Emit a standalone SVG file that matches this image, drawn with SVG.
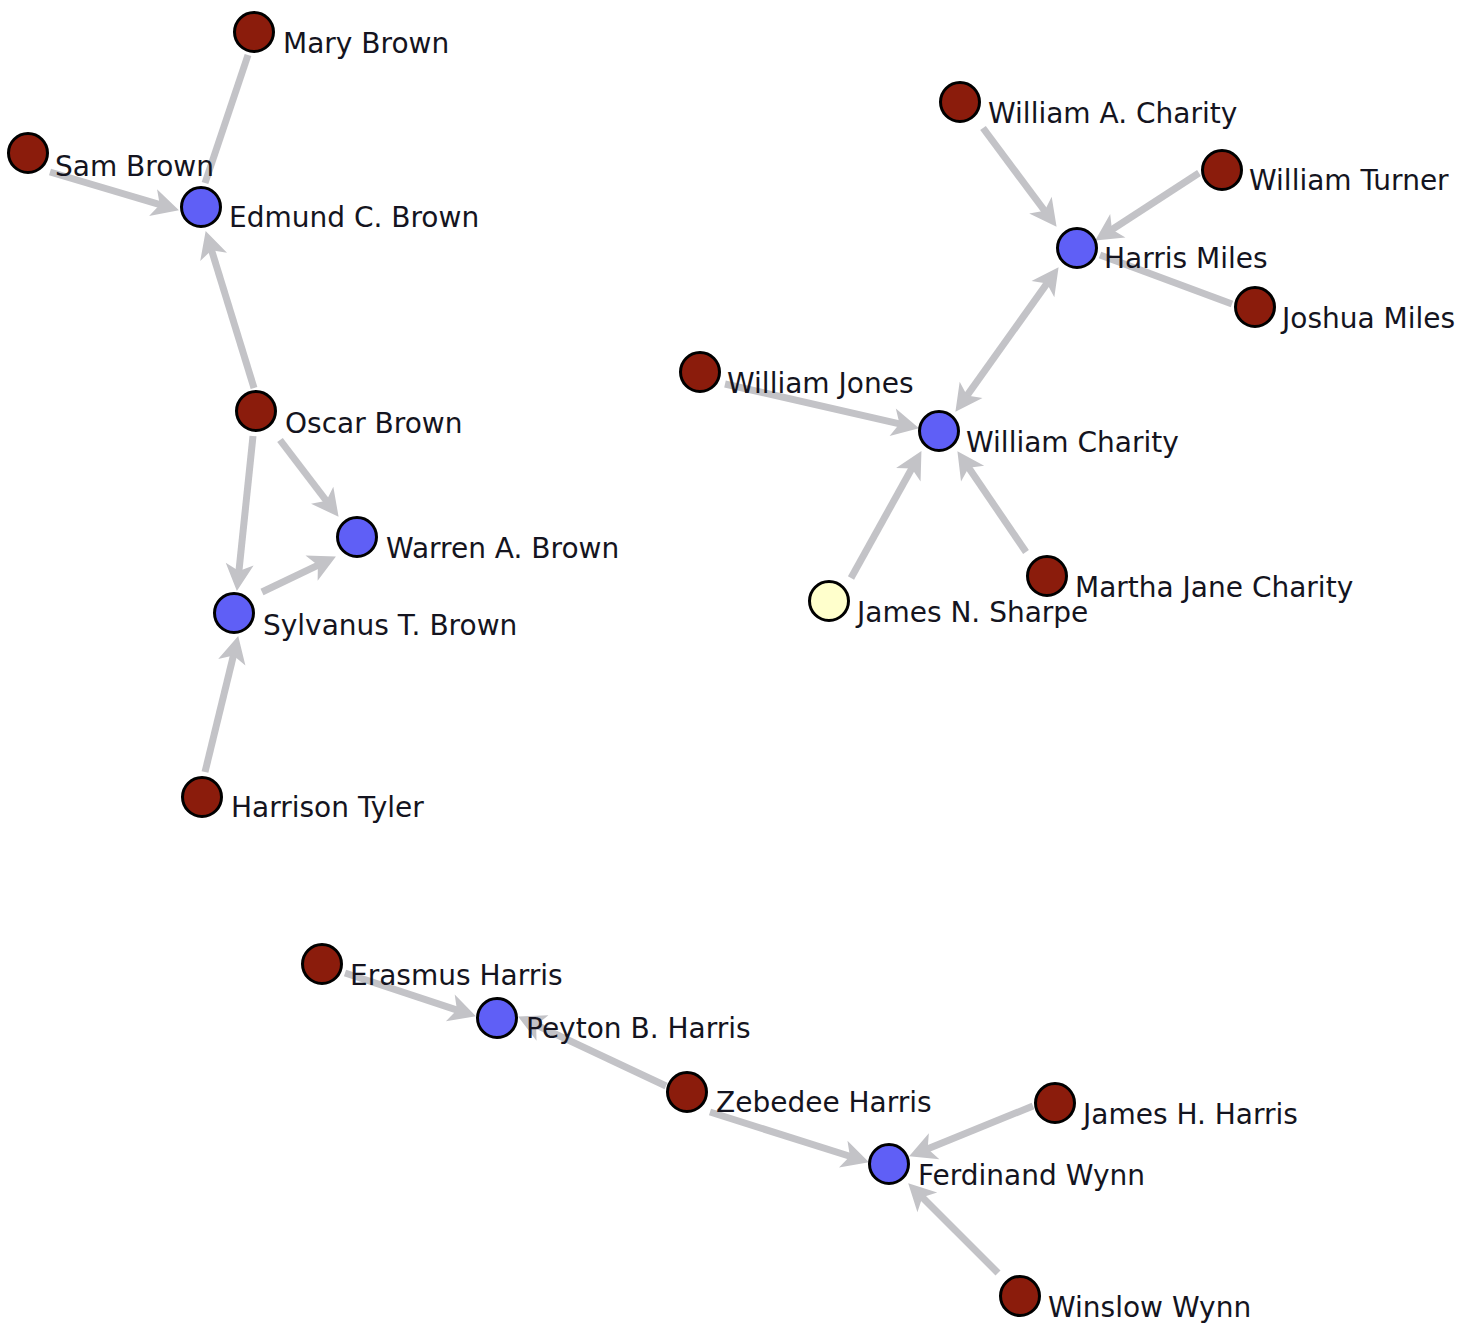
<svg xmlns="http://www.w3.org/2000/svg" width="1472" height="1323" viewBox="0 0 1472 1323">
<style>
.bg{fill:#ffffff}
.edge{stroke:#c3c3c7;stroke-width:7;fill:none}
.arr{marker-end:url(#ah)}
.both{marker-end:url(#ah);marker-start:url(#ahs)}
.n{stroke:#000;stroke-width:3}
.red{fill:#8b1c0c}
.blue{fill:#5f5ff6}
.yel{fill:#ffffcc}
text{font-family:"DejaVu Sans","Liberation Sans",sans-serif;font-size:28px;fill:#141420}
</style>
<defs>
<marker id="ah" markerUnits="userSpaceOnUse" markerWidth="44" markerHeight="44" viewBox="-22 -22 44 44" refX="0" refY="0" orient="auto">
<path d="M11,0 L-16,-14 L-9,0 L-16,14 Z" fill="#c3c3c7"/>
</marker>
<marker id="ahs" markerUnits="userSpaceOnUse" markerWidth="44" markerHeight="44" viewBox="-22 -22 44 44" refX="0" refY="0" orient="auto-start-reverse">
<path d="M11,0 L-16,-14 L-9,0 L-16,14 Z" fill="#c3c3c7"/>
</marker>
</defs>
<rect class="bg" x="0" y="0" width="1472" height="1323"/>
<g id="edges">
<line class="edge" x1="248" y1="55" x2="205" y2="183"/>
<line class="edge arr" x1="50" y1="172" x2="168.4" y2="207.2"/>
<line class="edge arr" x1="254" y1="388" x2="208.9" y2="241.6"/>
<line class="edge arr" x1="253" y1="436" x2="238" y2="580"/>
<line class="edge arr" x1="280" y1="440" x2="331.9" y2="508"/>
<line class="edge arr" x1="262" y1="592" x2="326" y2="561.3"/>
<line class="edge arr" x1="205" y1="772" x2="235.6" y2="646.7"/>
<line class="edge arr" x1="983" y1="128" x2="1050" y2="218"/>
<line class="edge arr" x1="1199" y1="173" x2="1104.4" y2="234.5"/>
<line class="edge" x1="1232" y1="304" x2="1100" y2="255"/>
<line class="edge both" x1="961.8" y1="402.9" x2="1052.2" y2="276.1"/>
<line class="edge arr" x1="725" y1="384" x2="908.3" y2="425.8"/>
<line class="edge arr" x1="851" y1="578" x2="916.1" y2="460.7"/>
<line class="edge arr" x1="1026" y1="552" x2="963.6" y2="460.3"/>
<line class="edge arr" x1="345" y1="973" x2="465.5" y2="1012.9"/>
<line class="edge arr" x1="666" y1="1086" x2="528" y2="1021.2"/>
<line class="edge arr" x1="710" y1="1112" x2="858.5" y2="1159"/>
<line class="edge arr" x1="1033" y1="1106" x2="919.3" y2="1152.2"/>
<line class="edge arr" x1="998" y1="1273" x2="916" y2="1191"/>
</g>
<g id="n-mary-brown"><circle class="n red" cx="254" cy="32" r="19.5"/><text x="283" y="53">Mary Brown</text></g>
<g id="n-sam-brown"><circle class="n red" cx="28" cy="153" r="19.5"/><text x="55" y="176">Sam Brown</text></g>
<g id="n-edmund-c-brown"><circle class="n blue" cx="201" cy="207" r="19.5"/><text x="229" y="227">Edmund C. Brown</text></g>
<g id="n-oscar-brown"><circle class="n red" cx="256" cy="411" r="19.5"/><text x="285" y="433">Oscar Brown</text></g>
<g id="n-warren-a-brown"><circle class="n blue" cx="357" cy="537" r="19.5"/><text x="386" y="558">Warren A. Brown</text></g>
<g id="n-sylvanus-t-brown"><circle class="n blue" cx="234" cy="613" r="19.5"/><text x="263" y="635">Sylvanus T. Brown</text></g>
<g id="n-harrison-tyler"><circle class="n red" cx="202" cy="797" r="19.5"/><text x="231" y="817">Harrison Tyler</text></g>
<g id="n-william-a-charity"><circle class="n red" cx="960" cy="102" r="19.5"/><text x="988" y="123">William A. Charity</text></g>
<g id="n-william-turner"><circle class="n red" cx="1222" cy="170" r="19.5"/><text x="1249" y="190">William Turner</text></g>
<g id="n-harris-miles"><circle class="n blue" cx="1077" cy="248" r="19.5"/><text x="1104" y="268">Harris Miles</text></g>
<g id="n-joshua-miles"><circle class="n red" cx="1255" cy="307" r="19.5"/><text x="1282" y="328">Joshua Miles</text></g>
<g id="n-william-jones"><circle class="n red" cx="700" cy="372" r="19.5"/><text x="727" y="393">William Jones</text></g>
<g id="n-william-charity"><circle class="n blue" cx="939" cy="431" r="19.5"/><text x="966" y="452">William Charity</text></g>
<g id="n-james-n-sharpe"><circle class="n yel" cx="829" cy="601" r="19.5"/><text x="857" y="622">James N. Sharpe</text></g>
<g id="n-martha-jane-charity"><circle class="n red" cx="1047" cy="576" r="19.5"/><text x="1075" y="597">Martha Jane Charity</text></g>
<g id="n-erasmus-harris"><circle class="n red" cx="322" cy="964" r="19.5"/><text x="350" y="985">Erasmus Harris</text></g>
<g id="n-peyton-b-harris"><circle class="n blue" cx="497" cy="1018" r="19.5"/><text x="526" y="1038">Peyton B. Harris</text></g>
<g id="n-zebedee-harris"><circle class="n red" cx="687" cy="1092" r="19.5"/><text x="716" y="1112">Zebedee Harris</text></g>
<g id="n-james-h-harris"><circle class="n red" cx="1055" cy="1103" r="19.5"/><text x="1083" y="1124">James H. Harris</text></g>
<g id="n-ferdinand-wynn"><circle class="n blue" cx="889" cy="1164" r="19.5"/><text x="918" y="1185">Ferdinand Wynn</text></g>
<g id="n-winslow-wynn"><circle class="n red" cx="1020" cy="1296" r="19.5"/><text x="1048" y="1317">Winslow Wynn</text></g>
</svg>
